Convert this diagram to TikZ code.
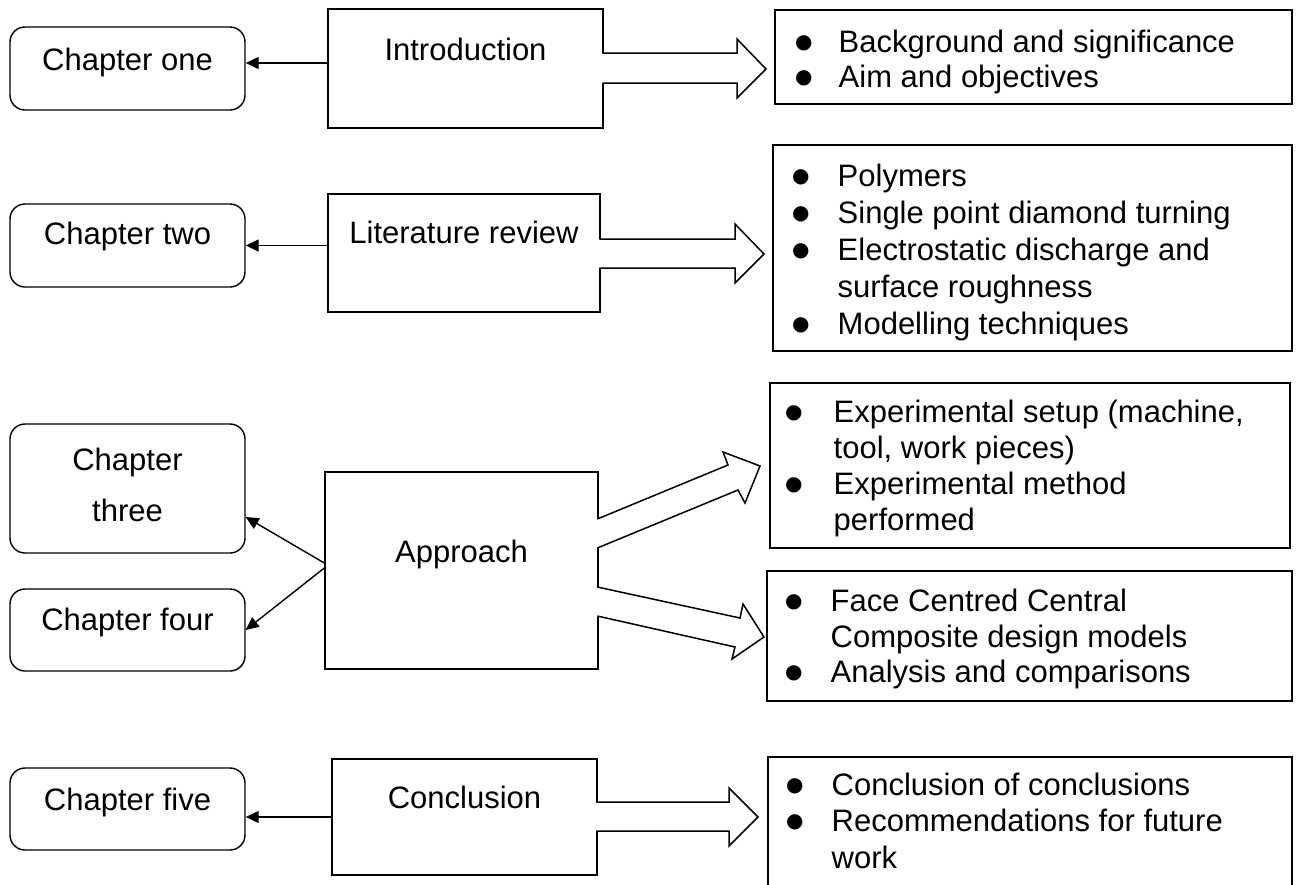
\documentclass[tikz,border=0pt]{standalone}
\usepackage{fontspec}
\setmainfont{Liberation Sans}
\newfontfamily\dvs{DejaVu Sans}
\usetikzlibrary{arrows.meta,calc}
\newcommand{\bl}[2]{\begin{tabular}[t]{@{}p{#1pt}@{}l@{}}#2\end{tabular}}
\newcommand{\bu}{\raisebox{4pt}{\dvs\fontsize{20}{20}\selectfont ●}}
\begin{document}
\begin{tikzpicture}[x=1pt,y=-1pt,line width=1.4pt,
  chap/.style={draw, rounded corners=15pt, minimum width=235pt, inner sep=0pt},
  midbox/.style={draw, inner sep=0pt},
  rbox/.style={draw, inner sep=0pt},
  lbl/.style={anchor=base, inner sep=0pt, font=\fontsize{31}{37}\selectfont},
  listtxt/.style={anchor=base west, inner sep=0pt},
  conn/.style={-{Triangle[length=13pt,width=12pt]}, line width=1.4pt},
  barrow/.style={draw, line width=1.5pt, line join=miter},
  bfill/.style={fill=white, draw=none}]
\useasboundingbox (0,0) rectangle (1301,884);

% chapter boxes
\node[chap, minimum height=83pt]  (ch1) at (127.5,68.5) {};
\node[chap, minimum height=83pt]  (ch2) at (127.5,245.5) {};
\node[chap, minimum height=129pt] (ch3) at (127.5,488.5) {};
\node[chap, minimum height=82pt]  (ch4) at (127.5,630) {};
\node[chap, minimum height=82pt]  (ch5) at (127.5,809) {};

\node[lbl] (ch1t) at (127.5,70) {Chapter one};
\node[lbl] (ch2t) at (127.5,244) {Chapter two};
\node[lbl] (ch3t) at (127.5,470) {Chapter};
\node[lbl] (ch3u) at (127.5,521) {three};
\node[lbl] (ch4t) at (127.5,630) {Chapter four};
\node[lbl] (ch5t) at (127.5,810) {Chapter five};

% middle boxes
\node[midbox, minimum width=275pt, minimum height=119pt] (intro) at (465.5,68.5) {};
\node[midbox, minimum width=272pt, minimum height=118pt] (lit) at (464,253) {};
\node[midbox, minimum width=273pt, minimum height=197pt] (appr) at (461.5,570.5) {};
\node[midbox, minimum width=265pt, minimum height=116pt] (concl) at (464.5,817) {};

\node[lbl] (introt) at (465.5,60) {Introduction};
\node[lbl] (litt) at (464,243) {Literature review};
\node[lbl] (apprt) at (461.5,562) {Approach};
\node[lbl] (conclt) at (464.5,808) {Conclusion};

% right boxes
\node[rbox, minimum width=517pt, minimum height=94pt]  (b1) at (1033.5,57) {};
\node[rbox, minimum width=519pt, minimum height=206pt] (b2) at (1032.5,248) {};
\node[rbox, minimum width=520pt, minimum height=165pt] (b3) at (1030,465.5) {};
\node[rbox, minimum width=525pt, minimum height=130pt] (b4) at (1029.5,636) {};
\node[rbox, minimum width=524pt, minimum height=143pt] (b5) at (1030,828.5) {};

\node[listtxt, font=\fontsize{31}{35}\selectfont] (b1t) at (794.5,52)
  {\bl{43.5}{\bu & Background and significance\\ \bu & Aim and objectives}};
\node[listtxt, font=\fontsize{31}{37}\selectfont] (b2t) at (791.5,186.5)
  {\bl{45.5}{\bu & Polymers\\ \bu & Single point diamond turning\\ \bu & Electrostatic discharge and\\ & surface roughness\\ \bu & Modelling techniques}};
\node[listtxt, font=\fontsize{31}{36}\selectfont] (b3t) at (784.5,422)
  {\bl{48.5}{\bu & Experimental setup (machine,\\ & tool, work pieces)\\ \bu & Experimental method\\ & performed}};
\node[listtxt, font=\fontsize{31}{35.5}\selectfont] (b4t) at (784.5,611.5)
  {\bl{45.5}{\bu & Face Centred Central\\ & Composite design models\\ \bu & Analysis and comparisons}};
\node[listtxt, font=\fontsize{31}{36.5}\selectfont] (b5t) at (785.5,795)
  {\bl{45.5}{\bu & Conclusion of conclusions\\ \bu & Recommendations for future\\ & work}};

% connectors to chapters
\draw[conn] ([yshift=5.5pt]intro.west) -- ([yshift=5.5pt]ch1.east);
\draw[conn] (lit.west |- ch2.east) -- (ch2.east);
\draw[conn] ([yshift=7.5pt]appr.west) -- ([yshift=-28.5pt]ch3.east);
\draw[conn] ([yshift=2.5pt]appr.west) -- (ch4.east);
\draw[conn] (concl.west) -- (concl.west -| ch5.east);

% block arrows
\fill[bfill] (601,53)--(737,53)--(737,39)--(766,69)--(737,98)--(737,83)--(601,83)--cycle;
\draw[barrow] (602.3,53)--(737,53)--(737,39)--(766,69)--(737,98)--(737,83)--(602.3,83);

\fill[bfill] (598,239)--(735,239)--(735,224)--(764,254)--(735,283)--(735,268)--(598,268)--cycle;
\draw[barrow] (599.3,239)--(735,239)--(735,224)--(764,254)--(735,283)--(735,268)--(599.3,268);

\fill[bfill] (596,519)--(728,465)--(723,452)--(760,466)--(745,503)--(738,490)--(596,548)--cycle;
\draw[barrow] (597.3,519)--(728,465)--(723,452)--(760,466)--(745,503)--(738,490)--(597.3,548);

\fill[bfill] (596,587)--(740,618)--(743,604)--(764,637)--(732,659)--(735,647)--(596,616)--cycle;
\draw[barrow] (597.3,587)--(740,618)--(743,604)--(764,637)--(732,659)--(735,647)--(597.3,616);

\fill[bfill] (595,802)--(729,802)--(729,788)--(758,817)--(729,846)--(729,831)--(595,831)--cycle;
\draw[barrow] (596.3,802)--(729,802)--(729,788)--(758,817)--(729,846)--(729,831)--(596.3,831);
\end{tikzpicture}
\end{document}
